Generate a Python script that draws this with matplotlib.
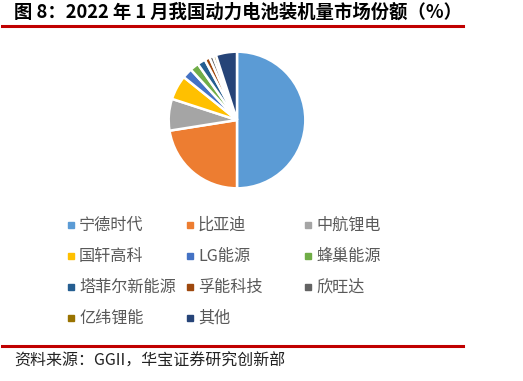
import matplotlib
matplotlib.use("Agg")
import matplotlib.pyplot as plt
from matplotlib.patches import Rectangle
from matplotlib.lines import Line2D

plt.rcParams["font.family"] = ["Noto Sans CJK SC", "DejaVu Sans"]

# market share (%)
companies = ["宁德时代", "比亚迪", "中航锂电", "国轩高科", "LG能源", "蜂巢能源",
             "塔菲尔新能源", "孚能科技", "欣旺达", "亿纬锂能", "其他"]
shares = [50.0, 22.5, 7.5, 5.8, 2.4, 2.1, 1.9, 1.2, 0.9, 0.7, 5.0]
colors = ["#5B9BD5", "#ED7D31", "#A5A5A5", "#FFC000", "#4472C4", "#70AD47",
          "#255E91", "#9E480E", "#636363", "#997300", "#264478"]

W, H = 523, 381
fig = plt.figure(figsize=(W / 100, H / 100), dpi=100)

# pie
cx, cy, r = 237, 120, 69
ax = fig.add_axes([(cx - r) / W, 1 - (cy + r) / H, 2 * r / W, 2 * r / H])
ax.pie(shares, colors=colors, startangle=90, counterclock=False,
       wedgeprops=dict(edgecolor="white", linewidth=1.8))
ax.set_xlim(-1.01, 1.01)
ax.set_ylim(-1.01, 1.01)
ax.set_aspect("equal")
ax.axis("off")

# title and red rules
fig.text(14 / W, 1 - 12 / H, "图 8：2022 年 1 月我国动力电池装机量市场份额（%）",
         fontsize=13.2, fontweight="bold", va="center", ha="left")
fig.add_artist(Line2D([2 / W, 463 / W], [1 - 26 / H, 1 - 26 / H],
                      color="#C00000", lw=2.2))
fig.add_artist(Line2D([2 / W, 463 / W], [1 - 346 / H, 1 - 346 / H],
                      color="#C00000", lw=2.2))
fig.text(14 / W, 1 - 361 / H, "资料来源：GGII，华宝证券研究创新部",
         fontsize=11.5, va="center", ha="left", color="#222222")

# legend, filled row by row
col_x = [68, 187, 305]
row_y = [225, 256, 287, 318]
for i, (name, c) in enumerate(zip(companies, colors)):
    x = col_x[i % 3]
    y = row_y[i // 3]
    fig.add_artist(Rectangle((x / W, 1 - (y + 3) / H), 6 / W, 6 / H,
                             transform=fig.transFigure, color=c))
    fig.text((x + 11) / W, 1 - y / H, name, fontsize=11.6, color="#595959",
             va="center", ha="left")

fig.savefig("out.png", dpi=100)
